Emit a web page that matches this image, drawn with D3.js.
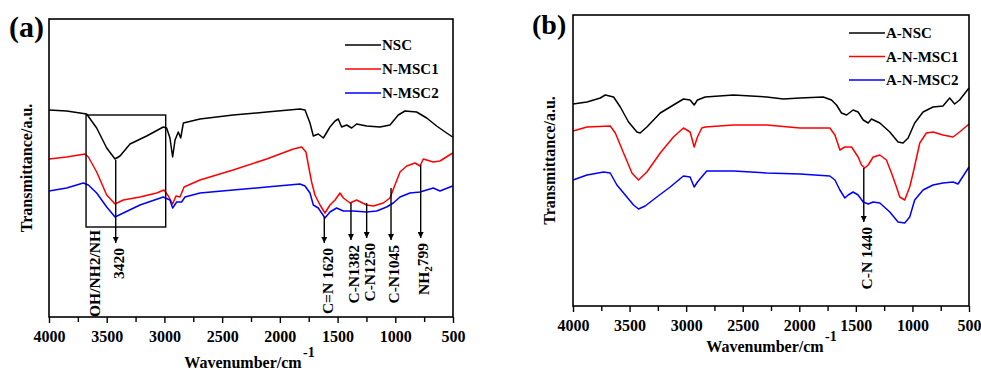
<!DOCTYPE html>
<html>
<head>
<meta charset="utf-8">
<script src="https://cdn.jsdelivr.net/npm/d3@7/dist/d3.min.js"></script>
<style>
  body { margin: 0; background: #fff; }
  svg { display: block; font-family: "Liberation Serif", "Times New Roman", serif; font-weight: bold; }
</style>
</head>
<body>
<svg id="chart" width="981" height="372"></svg>
<script>
// FTIR spectra, [wavenumber cm-1, transmittance a.u.] (offset curves, arbitrary units)
const nsc = [[4000,207],[3847,206],[3674,203],[3587,189],[3500,169],[3428,158],[3385,161],[3298,173],[3154,181],[3010,190],[2981,189],[2952,179],[2929,160],[2908,177],[2880,185],[2859,179],[2836,194],[2692,198],[2405,202],[2114,205],[1826,208],[1782,207],[1739,194],[1710,181],[1667,183],[1623,179],[1566,190],[1522,196],[1494,198],[1465,190],[1421,192],[1378,189],[1335,193],[1248,191],[1132,190],[1046,192],[974,202],[916,206],[815,205],[728,199],[642,191],[555,184],[503,180]];
const nMsc1 = [[4000,158],[3847,160],[3688,163],[3659,160],[3587,145],[3500,122],[3428,113],[3356,117],[3212,120],[3067,124],[3004,127],[2966,121],[2929,113],[2900,121],[2865,120],[2830,130],[2692,137],[2405,147],[2114,158],[1883,168],[1811,170],[1774,165],[1745,147],[1725,135],[1696,122],[1652,112],[1609,104],[1566,112],[1522,117],[1479,124],[1450,119],[1392,114],[1335,117],[1248,112],[1190,111],[1104,114],[1046,119],[1003,132],[959,145],[901,151],[829,154],[786,151],[757,158],[671,155],[613,156],[503,164]];
const nMsc2 = [[4000,126],[3847,129],[3703,134],[3659,132],[3587,124],[3500,110],[3428,100],[3356,104],[3212,112],[3010,120],[2952,117],[2929,109],[2894,115],[2851,115],[2822,120],[2692,124],[2405,127],[2114,130],[1826,133],[1782,131],[1739,124],[1710,112],[1667,109],[1609,99],[1566,105],[1508,109],[1450,106],[1364,106],[1248,105],[1161,106],[1075,110],[1017,114],[959,120],[873,124],[786,125],[671,129],[613,126],[503,131]];

const aNsc = [[4000,202],[3876,204],[3759,208],[3715,211],[3641,209],[3582,199],[3509,184],[3435,174],[3406,173],[3347,179],[3229,193],[3112,201],[3024,207],[2965,206],[2929,201],[2900,206],[2832,209],[2582,211],[2288,209],[2141,207],[1994,208],[1788,209],[1715,206],[1671,201],[1627,193],[1582,191],[1524,196],[1480,194],[1435,186],[1391,183],[1362,187],[1288,183],[1200,174],[1127,164],[1083,163],[1038,168],[980,183],[906,194],[818,199],[730,200],[671,208],[627,202],[583,206],[500,218]];
const aNMsc1 = [[4000,175],[3876,179],[3671,180],[3626,173],[3553,153],[3479,133],[3421,126],[3347,134],[3229,153],[3112,169],[3024,178],[2965,174],[2929,159],[2900,169],[2862,178],[2832,179],[2582,181],[2288,181],[1994,178],[1730,178],[1685,171],[1641,156],[1597,159],[1538,159],[1480,149],[1450,141],[1421,138],[1391,141],[1347,149],[1288,151],[1230,146],[1185,133],[1141,119],[1112,109],[1068,106],[1024,119],[994,133],[935,163],[877,173],[818,174],[730,171],[641,169],[583,174],[500,182]];
const aNMsc2 = [[4000,126],[3876,131],[3729,134],[3671,133],[3612,121],[3553,113],[3465,101],[3421,97],[3362,100],[3259,109],[3141,119],[3024,130],[2965,129],[2929,119],[2900,124],[2818,135],[2582,135],[2288,133],[1994,132],[1730,130],[1685,126],[1641,116],[1597,108],[1568,111],[1524,114],[1480,111],[1435,104],[1391,102],[1347,104],[1288,103],[1200,94],[1127,84],[1068,83],[1024,89],[980,106],[906,116],[818,121],[730,123],[641,124],[597,122],[500,139]];

const xTicks = [4000, 3500, 3000, 2500, 2000, 1500, 1000, 500];
const xMinor = [3750, 3250, 2750, 2250, 1750, 1250, 750];
const namesA = ['NSC', 'N-MSC1', 'N-MSC2'];
const namesB = ['A-NSC', 'A-N-MSC1', 'A-N-MSC2'];
const colors = ['#000000', '#ff0000', '#0000ff'];

// peak markers: [wavenumber, from, to, label]
const marksA = [[3422,157,74,'3420'],[1615,100,74,'C=N 1620'],[1384,114,77,'C-N1382'],[1248,114,79,'C-N1250'],[1037,129,77,'C-N1045'],[780,152,79,'NH2 799']];
const marksB = [[1430,138,84,'C-N 1440']];
const boxA = [3679, 2989, 90, 202];

const svg = d3.select('#chart');
svg.append('defs').append('marker')
  .attr('id', 'arrow')
  .attr('viewBox', '0 0 10 10')
  .attr('refX', 10).attr('refY', 5)
  .attr('markerWidth', 8).attr('markerHeight', 6)
  .attr('markerUnits', 'userSpaceOnUse')
  .attr('orient', 'auto')
  .append('path').attr('d', 'M0,0 L10,5 L0,10 z').attr('fill', '#000');

function drawPanel(p) {
  const x = d3.scaleLinear().domain([4000, 500]).range([p.left, p.right]);
  const y = d3.scaleLinear().domain([0, p.ymax]).range([p.bottom, p.top]);
  const g = svg.append('g');

  // minor ticks
  g.append('g')
    .attr('transform', `translate(0,${p.bottom})`)
    .call(d3.axisBottom(x).tickValues(xMinor).tickSize(5).tickFormat(''))
    .call(a => a.select('.domain').remove())
    .selectAll('line').attr('stroke-width', 1.4);

  // major ticks + labels
  g.append('g')
    .attr('transform', `translate(0,${p.bottom})`)
    .call(d3.axisBottom(x).tickValues(xTicks).tickSize(6).tickPadding(8).tickFormat(d3.format('d')))
    .call(a => a.select('.domain').remove())
    .call(a => a.selectAll('line').attr('stroke-width', 1.4))
    .call(a => a.selectAll('text')
      .attr('font-family', '"Liberation Serif", serif')
      .attr('font-weight', 'bold')
      .attr('font-size', 16)
      .attr('fill', '#000'));

  const line = d3.line().x(d => x(d[0])).y(d => y(d[1]));
  p.series.forEach((s, i) => {
    g.append('path')
      .datum(s)
      .attr('fill', 'none')
      .attr('stroke', colors[i])
      .attr('stroke-width', 1.5)
      .attr('stroke-linejoin', 'round')
      .attr('d', line);
  });

  // frame
  g.append('rect')
    .attr('x', p.left).attr('y', p.top)
    .attr('width', p.right - p.left).attr('height', p.bottom - p.top)
    .attr('fill', 'none').attr('stroke', '#000').attr('stroke-width', 1.6);

  // legend
  p.names.forEach((n, i) => {
    const ly = p.legY + i * p.legGap;
    g.append('line')
      .attr('x1', p.legX).attr('x2', p.legX + 36)
      .attr('y1', ly).attr('y2', ly)
      .attr('stroke', colors[i]).attr('stroke-width', 1.6);
    g.append('text')
      .attr('x', p.legX + 37).attr('y', ly).attr('dy', '0.35em')
      .attr('font-size', 15).text(n);
  });

  // peak markers
  p.marks.forEach(m => {
    g.append('line')
      .attr('x1', x(m[0])).attr('x2', x(m[0]))
      .attr('y1', y(m[1])).attr('y2', y(m[2]))
      .attr('stroke', '#000').attr('stroke-width', 1.4)
      .attr('marker-end', 'url(#arrow)');
    const t = g.append('text')
      .attr('transform', `translate(${x(m[0]) + 3},${y(m[2]) + 5}) rotate(-90)`)
      .attr('text-anchor', 'end').attr('dy', '0.35em')
      .attr('font-size', 15.5);
    if (m[3].startsWith('NH2')) {
      t.append('tspan').text('NH');
      t.append('tspan').attr('font-size', 11).attr('dy', '0.3em').text('2');
      t.append('tspan').attr('dy', '-0.3em').text('799');
    } else {
      t.text(m[3]);
    }
  });

  // panel tag
  g.append('text').attr('x', p.tagX).attr('y', p.tagY).attr('font-size', p.tagSize).text(p.tag);

  // axis titles
  g.append('text')
    .attr('transform', `translate(${p.yTitleX},${(p.top + p.bottom) / 2}) rotate(-90)`)
    .attr('text-anchor', 'middle').attr('font-size', 16)
    .text('Transmittance/a.u.');
  g.append('text')
    .attr('x', p.xTitleX).attr('y', p.xTitleY)
    .attr('text-anchor', 'middle').attr('font-size', 16)
    .text('Wavenumber/cm');
  g.append('text')
    .attr('x', p.xTitleX + 60).attr('y', p.supY)
    .attr('font-size', 14).text('-1');
  return { x, y, g };
}

const pa = drawPanel({
  left: 49, right: 453, top: 19, bottom: 317, ymax: 298,
  series: [nsc, nMsc1, nMsc2], names: namesA, marks: marksA,
  legX: 345, legY: 45, legGap: 24,
  tag: '(a)', tagX: 9, tagY: 37, tagSize: 30,
  yTitleX: 32, xTitleX: 243, xTitleY: 368, supY: 357
});
// box around O-H / N-H region
pa.g.append('rect')
  .attr('x', pa.x(boxA[0])).attr('y', pa.y(boxA[3]))
  .attr('width', pa.x(boxA[1]) - pa.x(boxA[0]))
  .attr('height', pa.y(boxA[2]) - pa.y(boxA[3]))
  .attr('fill', 'none').attr('stroke', '#000').attr('stroke-width', 1.4);
pa.g.append('text')
  .attr('transform', `translate(${pa.x(3605)},${pa.y(87)}) rotate(-90)`)
  .attr('text-anchor', 'end').attr('dy', '0.35em')
  .attr('font-size', 15.5).text('OH/NH2/NH');

drawPanel({
  left: 573, right: 969, top: 15, bottom: 306, ymax: 291,
  series: [aNsc, aNMsc1, aNMsc2], names: namesB, marks: marksB,
  legX: 849, legY: 33, legGap: 23.5,
  tag: '(b)', tagX: 532, tagY: 34, tagSize: 28,
  yTitleX: 555, xTitleX: 765, xTitleY: 352, supY: 341
});
</script>
</body>
</html>
